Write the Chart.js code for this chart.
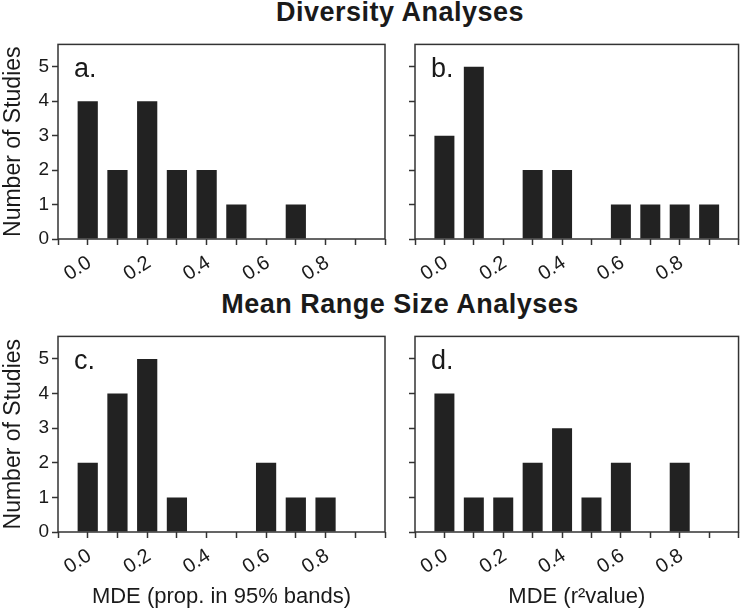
<!DOCTYPE html>
<html>
<head>
<meta charset="utf-8">
<script src="https://cdn.jsdelivr.net/npm/chart.js@4"></script>
<style>
  body { margin: 0; background: #fff; width: 743px; height: 610px; position: relative; overflow: hidden; font-family: "Liberation Sans", Arial, sans-serif; }
  .panel { position: absolute; }
  .heading { position: absolute; left: 0; width: 800px; text-align: center; font-weight: bold; font-size: 27px; letter-spacing: 0.5px; color: #1a1a1a; }
</style>
</head>
<body>
<div class="heading" style="top: -3px;">Diversity Analyses</div>
<div class="heading" style="top: 289px;">Mean Range Size Analyses</div>

<div class="panel" style="left:0; top:30px; width:395px; height:260px;"><canvas id="chartA"></canvas></div>
<div class="panel" style="left:395px; top:30px; width:348px; height:260px;"><canvas id="chartB"></canvas></div>
<div class="panel" style="left:0; top:322px; width:395px; height:288px;"><canvas id="chartC"></canvas></div>
<div class="panel" style="left:395px; top:322px; width:348px; height:288px;"><canvas id="chartD"></canvas></div>

<script>
// bin centres of the MDE histograms (bin width 0.1)
const binCentres = [-0.05, 0.05, 0.15, 0.25, 0.35, 0.45, 0.55, 0.65, 0.75, 0.85];

// number of studies per bin
const diversityProp = [4, 2, 4, 2, 2, 1, 0, 1, 0, 0];
const diversityR2   = [3, 5, 0, 2, 2, 0, 1, 1, 1, 1];
const rangeProp     = [2, 4, 5, 1, 0, 0, 2, 1, 1, 0];
const rangeR2       = [4, 1, 1, 2, 3, 1, 2, 0, 2, 0];

const yTicks = [0, 1, 2, 3, 4, 5];
const xTickLabels = ["0.0", "0.2", "0.4", "0.6", "0.8"];

const textColor = "#1a1a1a";
const barColor = "#222222";
const fontFamily = "'Liberation Sans', Arial, sans-serif";

// draws the frame round the plot area and the panel letter
const framePlugin = {
  id: "frame",
  afterDatasetsDraw(chart, args, opts) {
    const { ctx, chartArea: a } = chart;
    ctx.save();
    ctx.strokeStyle = "#333";
    ctx.lineWidth = 1.5;
    ctx.strokeRect(a.left, a.top, a.right - a.left, a.bottom - a.top);
    ctx.fillStyle = textColor;
    ctx.font = "27px " + fontFamily;
    ctx.textBaseline = "alphabetic";
    ctx.fillText(opts.letter, a.left + 16, a.top + 33);
    ctx.restore();
  }
};

function makePanel(id, values, letter, opts) {
  const ctx = document.getElementById(id).getContext("2d");
  return new Chart(ctx, {
    type: "bar",
    data: {
      datasets: [{
        data: binCentres.map((x, i) => ({ x: x, y: values[i] })),
        backgroundColor: barColor,
        borderWidth: 0,
        categoryPercentage: 1.0,
        barPercentage: 0.68
      }]
    },
    plugins: [framePlugin],
    options: {
      responsive: true,
      maintainAspectRatio: false,
      animation: false,
      layout: { padding: { top: opts.padTop, right: opts.padRight, bottom: 0, left: 0 } },
      plugins: {
        legend: { display: false },
        tooltip: { enabled: false },
        frame: { letter: letter }
      },
      scales: {
        x: {
          type: "linear",
          min: -0.1,
          max: 0.9,
          border: { display: false },
          grid: { display: true, drawOnChartArea: false, drawTicks: true, tickLength: 6, tickColor: "#333", tickWidth: 1.5 },
          ticks: {
            stepSize: 0.1,
            autoSkip: false,
            minRotation: 33,
            maxRotation: 33,
            padding: 6,
            labelOffset: -13,
            color: textColor,
            font: { family: fontFamily, size: 20 },
            callback: v => {
              const k = Math.round(v * 10);
              return (k >= 0 && k % 2 === 0) ? xTickLabels[k / 2] : "";
            }
          },
          title: {
            display: !!opts.xTitle,
            text: opts.xTitle || "",
            color: textColor,
            font: { family: fontFamily, size: 22 },
            padding: { top: 0, bottom: 0 }
          },
          afterFit: s => { s.height = opts.xHeight; }
        },
        y: {
          min: 0,
          max: 5.65,
          border: { display: false },
          grid: { display: true, drawOnChartArea: false, drawTicks: true, tickLength: 6, tickColor: "#333", tickWidth: 1.5 },
          afterBuildTicks: s => { s.ticks = yTicks.map(v => ({ value: v })); },
          ticks: {
            stepSize: 1,
            padding: 3,
            color: textColor,
            font: { family: fontFamily, size: 19 },
            callback: v => opts.yLabels ? String(v) : ""
          },
          title: {
            display: opts.yLabels,
            text: "Number of Studies",
            color: textColor,
            font: { family: fontFamily, size: 23 },
            padding: { top: 0, bottom: 0 }
          },
          afterFit: s => { s.width = opts.yWidth; }
        }
      }
    }
  });
}

makePanel("chartA", diversityProp, "a.", { padTop: 8, padRight: 10, xHeight: 51, yWidth: 58, yLabels: true });
makePanel("chartB", diversityR2, "b.", { padTop: 8, padRight: 2, xHeight: 51, yWidth: 20, yLabels: false });
makePanel("chartC", rangeProp, "c.", { padTop: 10, padRight: 10, xHeight: 78, yWidth: 58, yLabels: true, xTitle: "MDE (prop. in 95% bands)" });
makePanel("chartD", rangeR2, "d.", { padTop: 10, padRight: 2, xHeight: 78, yWidth: 20, yLabels: false, xTitle: "MDE (r\u00B2value)" });
</script>
</body>
</html>
